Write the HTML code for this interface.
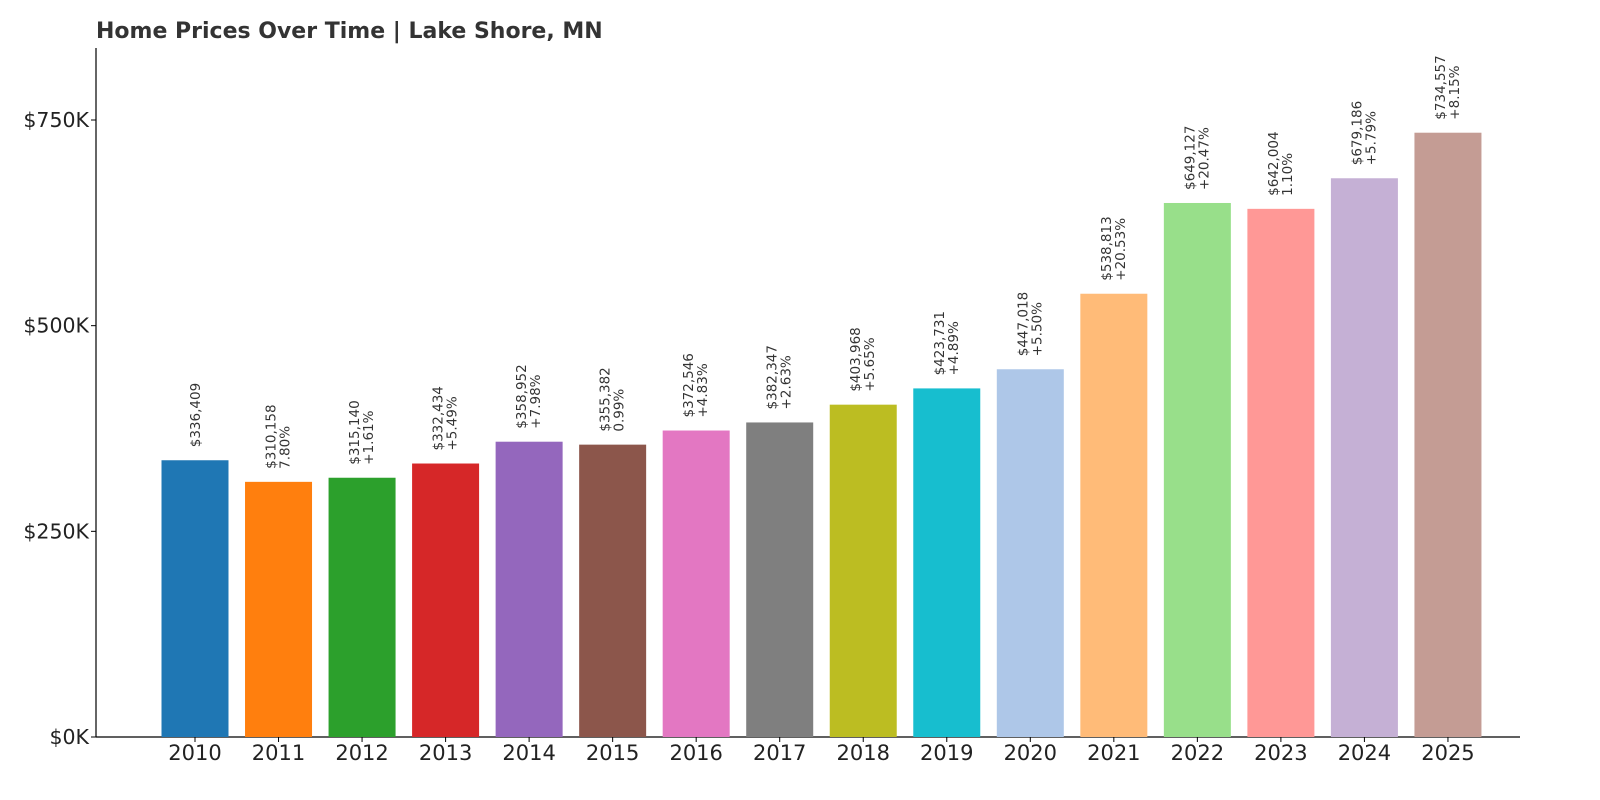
<!DOCTYPE html>
<html><head><meta charset="utf-8"><style>
html,body{margin:0;padding:0;background:#fff;}
svg{display:block;font-family:"DejaVu Sans","Liberation Sans",sans-serif;}
</style></head><body>
<svg id="chart" width="1600" height="800" xmlns="http://www.w3.org/2000/svg">
<text x="96" y="38" font-size="22" font-weight="bold" fill="#333">Home Prices Over Time | Lake Shore, MN</text>
<g id="axes"></g><g id="bars"></g>
</svg>
<script>
const years=["2010","2011","2012","2013","2014","2015","2016","2017","2018","2019","2020","2021","2022","2023","2024","2025"];
const prices=[336409,310158,315140,332434,358952,355382,372546,382347,403968,423731,447018,538813,649127,642004,679186,734557];
const changes=["","7.80%","+1.61%","+5.49%","+7.98%","0.99%","+4.83%","+2.63%","+5.65%","+4.89%","+5.50%","+20.53%","+20.47%","1.10%","+5.79%","+8.15%"];
const yTicks=[0,250000,500000,750000];
const yTickLabels=["$0K","$250K","$500K","$750K"];
const colors=["#1f77b4","#ff7f0e","#2ca02c","#d62728","#9467bd","#8c564b","#e377c2","#7f7f7f","#bcbd22","#17becf","#aec7e8","#ffbb78","#98df8a","#ff9896","#c5b0d5","#c49c94"];
const NS="http://www.w3.org/2000/svg";
const x0=96,x1=1520,yBase=737,yTop=48;
const yScale=v=>yBase-v*(617/750000);
const step=83.53,first=195,bw=67;
const xScale=i=>first+i*step;
function mk(tag,attrs,parent){const e=document.createElementNS(NS,tag);for(const k in attrs)e.setAttribute(k,attrs[k]);parent.appendChild(e);return e;}
const axes=document.getElementById('axes'),bars=document.getElementById('bars');
let l=mk('line',{x1:x0,y1:yTop,x2:x0,y2:yBase,stroke:'#000','stroke-width':1.2},axes);


l=mk('line',{x1:x0,y1:yBase,x2:x1,y2:yBase,stroke:'#000','stroke-width':1.2},axes);


yTicks.forEach((v,i)=>{
  const y=yScale(v);
  const t=mk('line',{x1:x0-5,y1:y,x2:x0,y2:y,stroke:'#000'},axes);
  
  
  const tx=mk('text',{x:x0-7,y:y+7,'font-size':20.5,'text-anchor':'end',fill:'#222'},axes);
  tx.textContent=yTickLabels[i];
  
  
});
years.forEach((yr,i)=>{
  const cx=xScale(i),top=yScale(prices[i]);
  const r=mk('rect',{x:cx-bw/2,y:top,width:bw,height:yBase-top,fill:colors[i]},bars);
  
  
  const t=mk('line',{x1:cx,y1:yBase,x2:cx,y2:yBase+5,stroke:'#000'},axes);
  
  
  const xl=mk('text',{x:cx,y:yBase+23,'font-size':21,'text-anchor':'middle',fill:'#222'},axes);
  xl.textContent=yr;
  
  
  const ty=top-13;
  const two=changes[i]!=="";
  const p=mk('text',{x:0,y:0,'font-size':13.5,fill:'#333',transform:`translate(${cx+(two?-3:5)},${ty}) rotate(-90)`},bars);
  p.textContent='$'+prices[i].toLocaleString('en-US');
  
  
  if(two){
    const c=mk('text',{x:0,y:0,'font-size':13.5,fill:'#333',transform:`translate(${cx+11},${ty}) rotate(-90)`},bars);
    c.textContent=changes[i];
    
    
  }
});
</script>
</body></html>
